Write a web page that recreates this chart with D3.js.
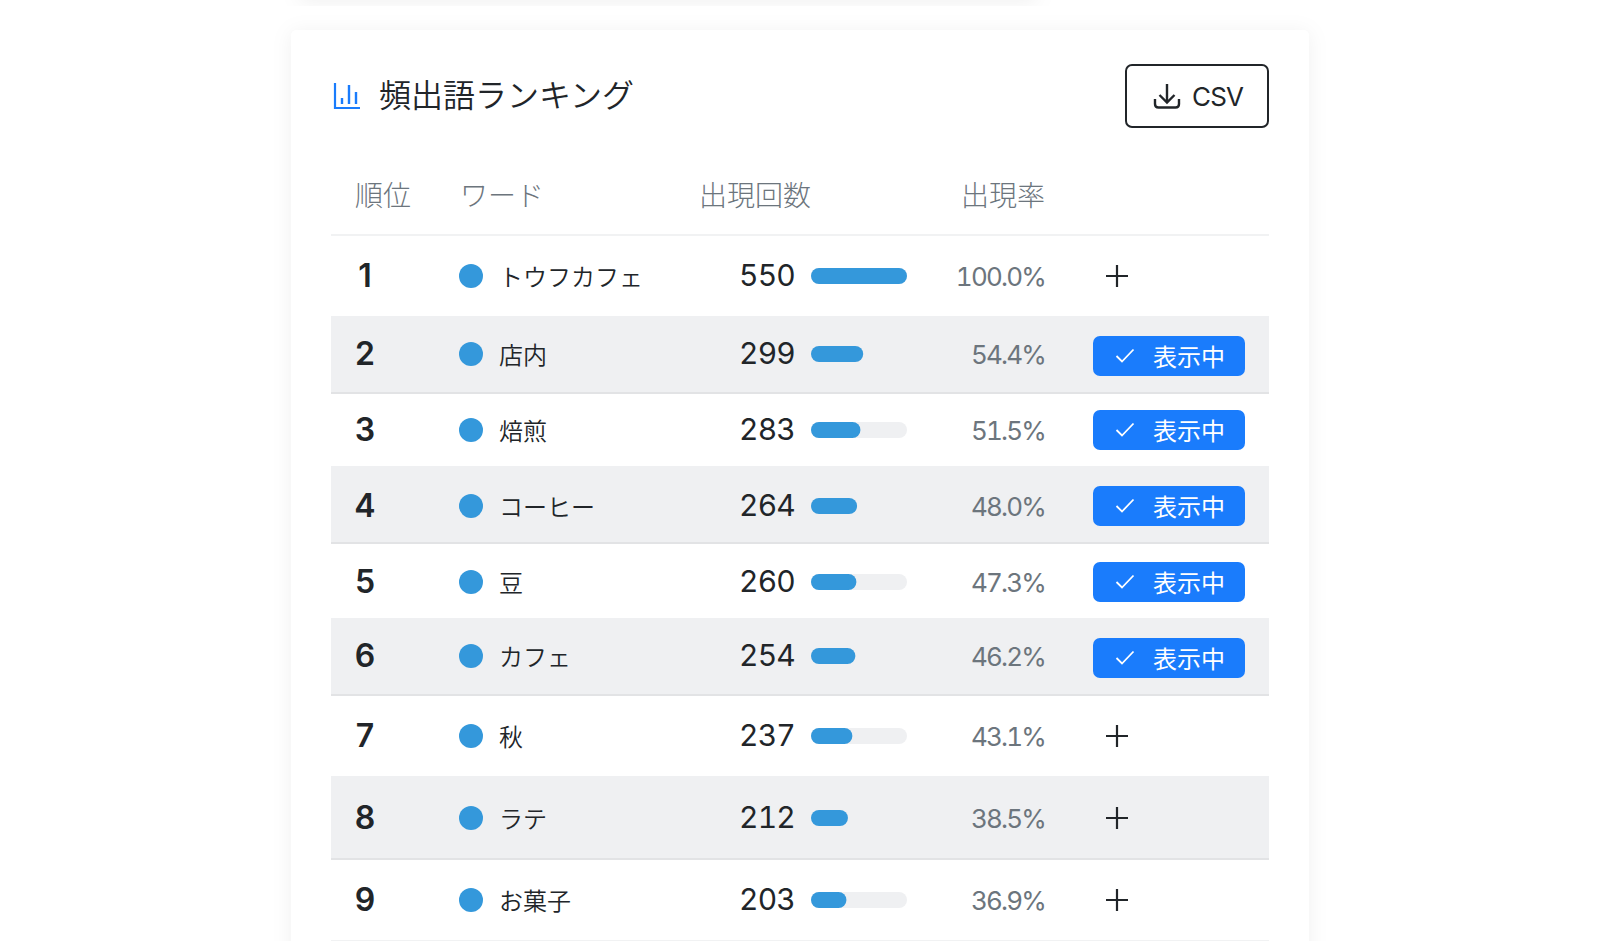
<!DOCTYPE html>
<html lang="ja"><head><meta charset="utf-8">
<script src="https://cdn.jsdelivr.net/npm/d3@7"></script>
<style>
html,body{margin:0;padding:0;background:#fff;overflow:hidden}
svg{display:block}
text{font-family:Inter,"Noto Sans CJK JP",sans-serif;font-variant-numeric:tabular-nums}
text.rank{font-variant-numeric:normal}
</style></head><body><svg id="c" width="1600" height="941"></svg>
<script>
const ranks=[1,2,3,4,5,6,7,8,9];
const words=["トウフカフェ","店内","焙煎","コーヒー","豆","カフェ","秋","ラテ","お菓子"];
const counts=[550,299,283,264,260,254,237,212,203];
const rates=[100.0,54.4,51.5,48.0,47.3,46.2,43.1,38.5,36.9];
const shown=[false,true,true,true,true,true,false,false,false];
const headers=["順位","ワード","出現回数","出現率"];
const title="頻出語ランキング";
const showLabel="表示中";

const rowEdges=[236,316,394,466,544,618,696,776,860,940];
const rowCenters=[276,354,430,506,582,656,736,818,900];
const btnCenters=[276,356,430,506,582,658,736,818,900];
const L=331,R=1269;
const svg=d3.select("#c");
const defs=svg.append("defs");
const f=defs.append("filter").attr("id","sh").attr("x","-10%").attr("y","-10%").attr("width","120%").attr("height","120%");
f.append("feDropShadow").attr("dx",0).attr("dy",2).attr("stdDeviation",10).attr("flood-color","#000").attr("flood-opacity",0.06);
svg.append("rect").attr("x",300).attr("y",-60).attr("width",736).attr("height",60).attr("fill","#fff").attr("filter","url(#sh)");
svg.append("rect").attr("x",291).attr("y",30).attr("width",1018).attr("height",1000).attr("rx",6).attr("fill","#fff").attr("filter","url(#sh)");

const x=d3.scaleLinear().domain([0,100]).range([811,907]);
const blue="#1a7cfc",dot="#3498db",ink="#212529",grey="#6c757d";

// title
const ic=svg.append("g").attr("fill","none").attr("stroke",blue);
ic.append("path").attr("d","M335 83V108H360").attr("stroke-width",2.2);
ic.append("path").attr("d","M342 98V104M349 85V104M356 92V104").attr("stroke-width",2.4);
svg.append("text").attr("x",379).attr("y",107).attr("font-size",32).attr("fill",ink).attr("font-weight",350).text(title);

// csv button
svg.append("rect").attr("x",1126).attr("y",65).attr("width",142).attr("height",62).attr("rx",6).attr("fill","#fff").attr("stroke",ink).attr("stroke-width",2);
svg.append("path").attr("d","M1167 84V102M1159.500 95L1167 102.500L1174.500 95M1155 99V104Q1155 107.500 1158.500 107.500H1175.500Q1179 107.500 1179 104V99").attr("fill","none").attr("stroke",ink).attr("stroke-width",2.400);
svg.append("text").attr("x",1192).attr("y",106).attr("font-size",26).attr("letter-spacing",-0.8).attr("fill",ink).text("CSV");

// header
const hx=[[355,"start"],[460,"start"],[699,"start"],[1045,"end"]];
svg.append("g").selectAll("text").data(headers).join("text").attr("x",(d,i)=>hx[i][0]).attr("y",206).attr("text-anchor",(d,i)=>hx[i][1]).attr("font-size",28).attr("fill",grey).attr("font-weight",300).text(d=>d);
svg.append("rect").attr("x",L).attr("y",234).attr("width",R-L).attr("height",2).attr("fill","#f1f2f3");

const rows=svg.append("g").selectAll("g").data(ranks).join("g");
rows.append("rect").attr("x",L).attr("width",R-L).attr("y",(d,i)=>rowEdges[i]).attr("height",(d,i)=>rowEdges[i+1]-rowEdges[i]).attr("fill",(d,i)=>i%2?"#eff0f2":"#fff");
rows.filter((d,i)=>i%2===1).append("rect").attr("x",L).attr("width",R-L).attr("y",(d)=>rowEdges[d]-2).attr("height",2).attr("fill","#e2e3e5");
svg.append("rect").attr("x",L).attr("width",R-L).attr("y",rowEdges[9]).attr("height",1).attr("fill","#f1f2f3");
rows.append("text").attr("class","rank").attr("x",365).attr("text-anchor","middle").attr("y",(d,i)=>rowCenters[i]+11).attr("font-size",32).attr("font-weight",600).attr("fill",ink).text(d=>d);
rows.append("circle").attr("cx",471).attr("cy",(d,i)=>rowCenters[i]).attr("r",12).attr("fill",dot);
rows.append("text").attr("x",499).attr("y",(d,i)=>rowCenters[i]+10).attr("font-size",24).attr("fill",ink).attr("font-weight",350).text((d,i)=>words[i]);
rows.append("text").attr("x",795).attr("y",(d,i)=>rowCenters[i]+10).attr("text-anchor","end").attr("font-size",30).attr("letter-spacing",-0.8).attr("fill",ink).attr("font-weight",400).text((d,i)=>counts[i]);
rows.append("rect").attr("x",x(0)).attr("y",(d,i)=>rowCenters[i]-8).attr("width",x(100)-x(0)).attr("height",16).attr("rx",8).attr("fill","#eff0f2");
rows.append("rect").attr("x",x(0)).attr("y",(d,i)=>rowCenters[i]-8).attr("width",(d,i)=>x(rates[i])-x(0)).attr("height",16).attr("rx",8).attr("fill",dot);
rows.append("text").attr("x",1045).attr("y",(d,i)=>rowCenters[i]+10).attr("text-anchor","end").attr("font-size",26).attr("letter-spacing",-1.8).attr("fill",grey).attr("font-weight",400).text((d,i)=>rates[i].toFixed(1)+"%");

rows.each(function(d,i){
  const g=d3.select(this),c=btnCenters[i];
  if(shown[i]){
    g.append("rect").attr("x",1093).attr("y",c-20).attr("width",152).attr("height",40).attr("rx",7).attr("fill",blue);
    g.append("path").attr("d",`M1116.500 ${c}L1122 ${c+5.500}L1133.500 ${c-6.500}`).attr("fill","none").attr("stroke","#fff").attr("stroke-width",1.800);
    g.append("text").attr("x",1153).attr("y",c+10).attr("font-size",24).attr("fill","#fff").text(showLabel);
  } else {
    g.append("path").attr("d",`M1106 ${c}H1128M1117 ${c-11}V${c+11}`).attr("fill","none").attr("stroke",ink).attr("stroke-width",2.200);
  }
});
</script></body></html>
